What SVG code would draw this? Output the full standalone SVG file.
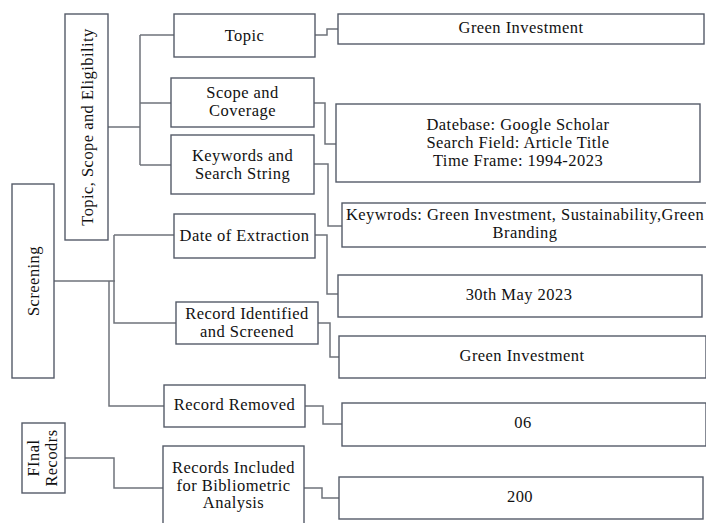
<svg xmlns="http://www.w3.org/2000/svg" width="706" height="523" viewBox="0 0 706 523">
<style>
.box{fill:#fff;stroke:#545b68;stroke-width:1.4}
.t{font-family:'Liberation Serif','Tinos','Times New Roman','DejaVu Serif',serif;font-size:16.5px;letter-spacing:0.45px;fill:#111;text-anchor:middle}
.c{fill:none;stroke:#6f737b;stroke-width:1.5}
</style>
<rect width="706" height="523" fill="#fff"/>
<g id="connectors">
<path class="c" d="M108,127 H140 M140,35 V165 M140,35 H174 M140,103 H171 M140,165 H171"/>
<path class="c" d="M315,35 H327 V29 H338"/>
<path class="c" d="M314,103 H325 V144 H336"/>
<path class="c" d="M314,164 H328 V226 H342"/>
<path class="c" d="M54,281 H115 M114,235 H174 M114,235 V323 H176 M109,281 V406 H164"/>
<path class="c" d="M315,235 H327 V294 H338"/>
<path class="c" d="M318,323 H330 V357 H339"/>
<path class="c" d="M305,406 H323 V424 H342"/>
<path class="c" d="M65,458 H114 V488 H163"/>
<path class="c" d="M304,488 H322 V498 H339"/>
</g>
<g id="tse"><rect class="box" x="65" y="14" width="43" height="226"/>
<text class="t" transform="translate(92.5,127) rotate(-90)">Topic, Scope and Eligibility</text></g>
<g id="screening"><rect class="box" x="12" y="184" width="42" height="194"/>
<text class="t" transform="translate(39,281) rotate(-90)">Screening</text></g>
<g id="final"><rect class="box" x="22" y="423" width="43" height="70"/>
<text class="t" transform="translate(39,458) rotate(-90)">FInal</text>
<text class="t" transform="translate(57,458) rotate(-90)">Recodrs</text></g>
<g id="topic"><rect class="box" x="174" y="14" width="141" height="43"/>
<text class="t" x="244.5" y="41">Topic</text></g>
<g id="scope"><rect class="box" x="171" y="78" width="143" height="49"/>
<text class="t" x="242.5" y="98">Scope and</text><text class="t" x="242.5" y="115.5">Coverage</text></g>
<g id="keywords"><rect class="box" x="171" y="135" width="143" height="59"/>
<text class="t" x="242.5" y="161">Keywords and</text><text class="t" x="242.5" y="178.5">Search String</text></g>
<g id="date"><rect class="box" x="174" y="214" width="141" height="44"/>
<text class="t" x="244.5" y="241">Date of Extraction</text></g>
<g id="identified"><rect class="box" x="176" y="302" width="142" height="42"/>
<text class="t" x="247" y="319">Record Identified</text><text class="t" x="247" y="336.5">and Screened</text></g>
<g id="removed"><rect class="box" x="164" y="385" width="141" height="42"/>
<text class="t" x="234.5" y="410">Record Removed</text></g>
<g id="included"><rect class="box" x="163" y="446" width="141" height="80"/>
<text class="t" x="233.5" y="473">Records Included</text><text class="t" x="233.5" y="490.5">for Bibliometric</text><text class="t" x="233.5" y="508">Analysis</text></g>
<g id="green1"><rect class="box" x="338" y="14" width="366" height="30"/>
<text class="t" x="521" y="33">Green Investment</text></g>
<g id="database"><rect class="box" x="336" y="104" width="364" height="78"/>
<text class="t" x="518" y="130">Datebase: Google Scholar</text><text class="t" x="518" y="148">Search Field: Article Title</text><text class="t" x="518" y="166">Time Frame: 1994-2023</text></g>
<g id="keywrods"><rect class="box" x="342" y="203" width="368" height="44"/>
<text class="t" x="525" y="220">Keywrods: Green Investment, Sustainability,Green</text><text class="t" x="525" y="238">Branding</text></g>
<g id="may"><rect class="box" x="338" y="275" width="364" height="42"/>
<text class="t" x="519" y="300">30th May 2023</text></g>
<g id="green2"><rect class="box" x="339" y="336" width="367" height="42"/>
<text class="t" x="522" y="361">Green Investment</text></g>
<g id="removed-val"><rect class="box" x="342" y="403" width="364" height="43"/>
<text class="t" x="523" y="428">06</text></g>
<g id="included-val"><rect class="box" x="339" y="477" width="364" height="42"/>
<text class="t" x="520" y="502">200</text></g>
</svg>
